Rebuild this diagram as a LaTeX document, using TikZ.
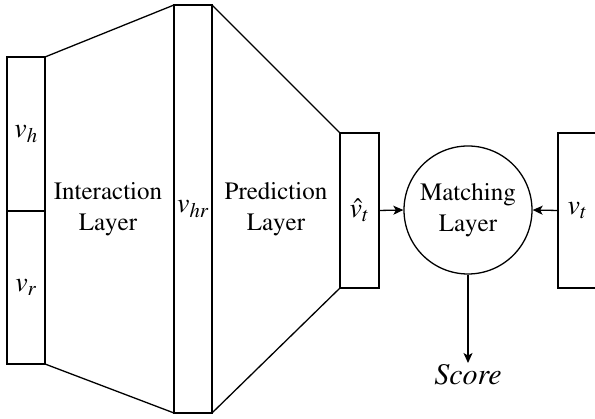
\documentclass[tikz,border=0pt]{standalone}
\usepackage[T1]{fontenc}
\usepackage{mathptmx}
\usetikzlibrary{arrows.meta}
\begin{document}
\begin{tikzpicture}[x=1pt,y=1pt,
  line width=1.3pt,
  every node/.style={font=\fontsize{25}{31}\selectfont},
  vec/.style={draw, rectangle, minimum width=38pt, inner sep=0pt, outer sep=0pt,
    font=\fontsize{28}{32}\selectfont},
  lbl/.style={align=center, inner sep=0pt},
  arr/.style={-{Stealth[length=10pt,width=9pt,inset=2.5pt]}}]
\useasboundingbox (0,0) rectangle (595,419);
% input embeddings
\node[vec, minimum height=154pt] (vh) at (26,285) {$v_h$};
\node[vec, minimum height=153pt, anchor=north] (vr) at (vh.south) {$v_r$};
% joint representation
\node[vec, minimum height=408pt] (vhr) at (193,210) {$v_{hr}$};
% predicted tail
\node[vec, minimum width=39pt, minimum height=155pt] (vtp) at (359.5,208.5) {$\hat{v}_t$};
% true tail
\node[vec, minimum width=39pt, minimum height=155pt] (vt) at (577.5,208.5) {$v_t$};
% matching
\node[draw, circle, minimum size=128pt, inner sep=0pt, lbl] (match) at (468,209) {Matching\\Layer};
% trapezoid sides
\draw (vh.north east) -- (vhr.north west);
\draw (vr.south east) -- (vhr.south west);
\draw (vhr.north east) -- (vtp.north west);
\draw (vhr.south east) -- (vtp.south west);
\node[lbl] (ilab) at (108,210) {Interaction\\Layer};
\node[lbl] (plab) at (276,210) {Prediction\\Layer};
% connectors
\draw[arr] (vtp.east) -- (match.west);
\draw[arr] (vt.west) -- (match.east);
\node[anchor=base, inner sep=1pt, font=\fontsize{30}{36}\selectfont\itshape] (score) at (468,34) {Score};
\draw[arr] (match.south) -- (score.north);
\end{tikzpicture}
\end{document}
